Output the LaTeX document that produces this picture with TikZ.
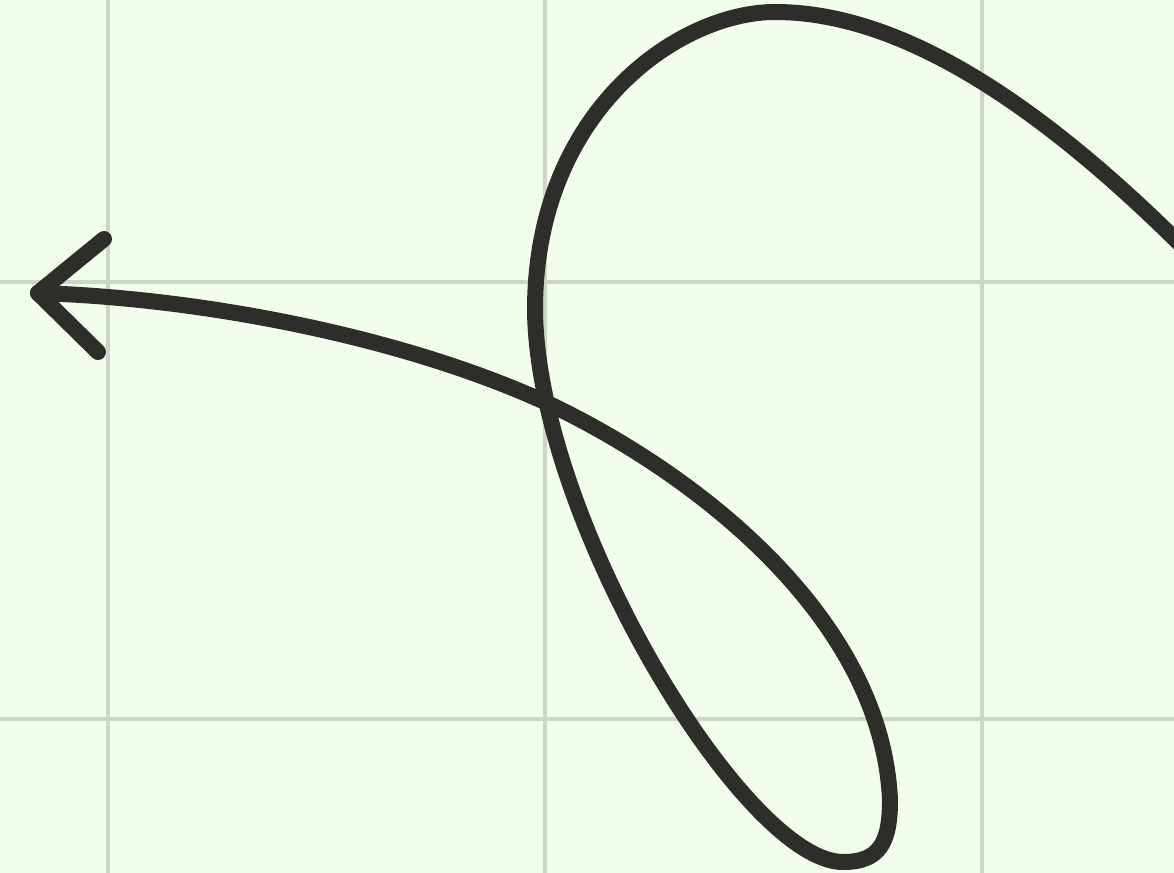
\documentclass[tikz,border=0pt]{standalone}
\definecolor{bg}{HTML}{F2FDEB}
\definecolor{gridc}{HTML}{CDD5C6}
\definecolor{ink}{HTML}{2D2D2A}
\begin{document}
\begin{tikzpicture}[x=0.75pt,y=-0.75pt,
  gridline/.style={draw=gridc,line width=2.6pt},
  stroke/.style={draw=ink,line width=12pt,line cap=round,line join=round}]
\fill[bg] (0,0) rectangle (1174,873);
\useasboundingbox (0,0) rectangle (1174,873);
\foreach \x in {108,545,982} \draw[gridline] (\x,0) -- (\x,873);
\foreach \y in {282,719} \draw[gridline] (0,\y) -- (1174,\y);
\coordinate (start) at (1182,246);
\coordinate (tip) at (38,293);
\coordinate (w1) at (104,239);
\coordinate (w2) at (98,352);
\draw[stroke] (start) .. controls (1045,110) and (905,12) .. (775,12)
  .. controls (680,12) and (535,110) .. (535,310)
  .. controls (537,520) and (745,862) .. (843,862)
  .. controls (880,862) and (890,842) .. (890,800)
  .. controls (882,620) and (700,475) .. (545,402)
  .. controls (400,336) and (200,298) .. (tip);
\draw[stroke] (w1) -- (tip) -- (w2);
\end{tikzpicture}
\end{document}
